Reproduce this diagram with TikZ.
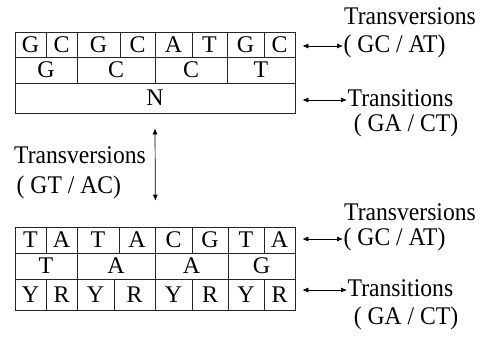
\documentclass[tikz,border=0pt]{standalone}
\usepackage{fontspec}
\setmainfont{Liberation Serif}
\newfontfamily\labfont[FakeStretch=0.93]{Liberation Serif}
\usetikzlibrary{arrows.meta}
\newcommand\mycell[6]{\node[cellbox, minimum width={(#3-#2)*1bp}, minimum height={(#5-#4)*1bp}] (#1) at ({(#2+#3)/2},{(#4+#5)/2}) {#6};}
\begin{document}
\begin{tikzpicture}[x=1bp,y=-1bp,
  cellbox/.style={draw=black!85, line width=0.7bp, inner sep=0pt, font=\fontsize{24}{24}\selectfont, text height=15.8bp, text depth=0pt},
  lab/.style={font=\labfont\fontsize{25.5}{26}\selectfont, inner sep=0.5bp, text height=17.5bp, text depth=4bp},
  dbl/.style={{Latex[length=6bp,width=5bp]}-{Latex[length=6bp,width=5bp]}, line width=0.7bp}]
\path[use as bounding box] (0,0) rectangle (480,340);
% top table
\mycell{ta1}{15}{46}{32}{57}{G}
\mycell{ta2}{46}{77}{32}{57}{C}
\mycell{ta3}{77}{120}{32}{57}{G}
\mycell{ta4}{120}{155}{32}{57}{C}
\mycell{ta5}{155}{192}{32}{57}{A}
\mycell{ta6}{192}{227}{32}{57}{T}
\mycell{ta7}{227}{264}{32}{57}{G}
\mycell{ta8}{264}{295}{32}{57}{C}
\mycell{tb1}{15}{77}{57}{83}{G}
\mycell{tb2}{77}{155}{57}{83}{C}
\mycell{tb3}{155}{227}{57}{83}{C}
\mycell{tb4}{227}{295}{57}{83}{T}
\mycell{tc1}{15}{295}{83}{113}{N}
% bottom table
\mycell{ba1}{15}{46}{227}{253}{T}
\mycell{ba2}{46}{77}{227}{253}{A}
\mycell{ba3}{77}{119}{227}{253}{T}
\mycell{ba4}{119}{155}{227}{253}{A}
\mycell{ba5}{155}{192}{227}{253}{C}
\mycell{ba6}{192}{228}{227}{253}{G}
\mycell{ba7}{228}{264}{227}{253}{T}
\mycell{ba8}{264}{295}{227}{253}{A}
\mycell{bb1}{15}{77}{253}{279}{T}
\mycell{bb2}{77}{155}{253}{279}{A}
\mycell{bb3}{155}{228}{253}{279}{A}
\mycell{bb4}{228}{295}{253}{279}{G}
\mycell{bc1}{15}{46}{279}{310}{Y}
\mycell{bc2}{46}{77}{279}{310}{R}
\mycell{bc3}{77}{114}{279}{310}{Y}
\mycell{bc4}{114}{155}{279}{310}{R}
\mycell{bc5}{155}{192}{279}{310}{Y}
\mycell{bc6}{192}{228}{279}{310}{R}
\mycell{bc7}{228}{264}{279}{310}{Y}
\mycell{bc8}{264}{295}{279}{310}{R}
% labels
\node[lab] (ttrv) at (410,18) {Transversions};
\node[lab, anchor=west] (tgcat) at (343,46) {( GC / AT)};
\node[lab, anchor=west] (ttr) at (347,100) {Transitions};
\node[lab] (tgact) at (406,125) {( GA / CT)};
\node[lab] (ltrv) at (80,157) {Transversions};
\node[lab, anchor=west] (lgtac) at (16,187) {( GT / AC)};
\node[lab] (btrv) at (410,214) {Transversions};
\node[lab, anchor=west] (bgcat) at (343,239) {( GC / AT)};
\node[lab, anchor=west] (btr) at (347,290) {Transitions};
\node[lab] (bgact) at (406,318) {( GA / CT)};
% arrows
\draw[dbl] ([xshift=7bp]ta8.east |- tgcat.west) -- (tgcat.west);
\draw[dbl] ([xshift=7bp]tc1.east |- ttr.west) -- (ttr.west);
\draw[dbl] ([xshift=7bp]ba8.east |- bgcat.west) -- (bgcat.west);
\draw[dbl] ([xshift=7bp]bc8.east |- btr.west) -- (btr.west);
\draw[dbl] ([yshift=-15bp]tc1.south) -- ([yshift=26bp]ba4.north east);
\end{tikzpicture}
\end{document}
